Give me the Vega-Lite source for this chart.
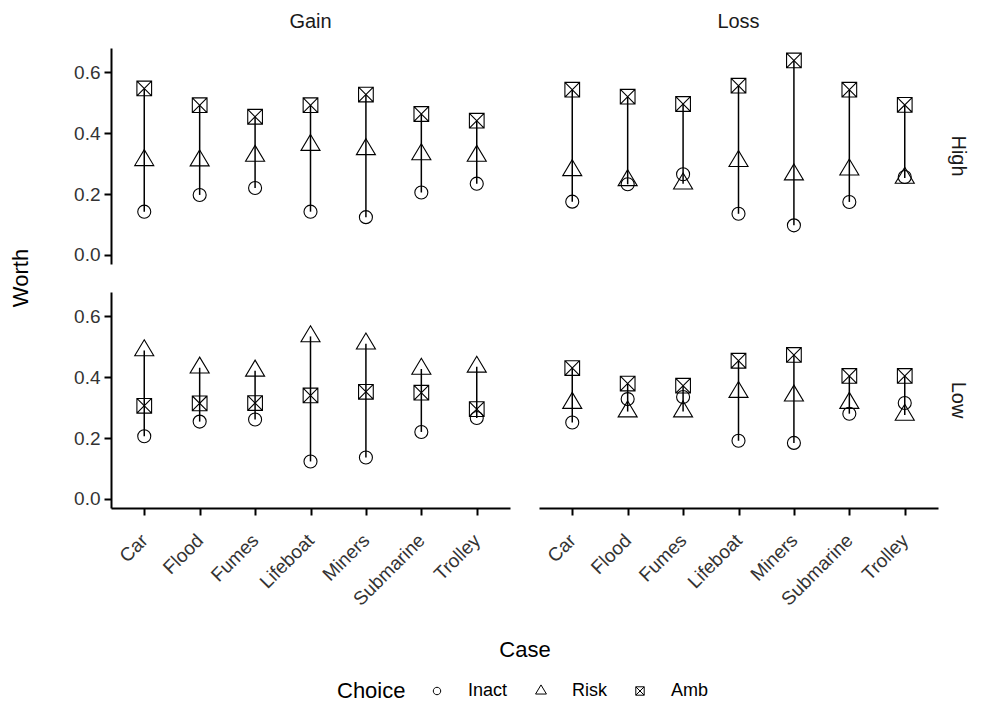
{
  "$schema": "https://vega.github.io/schema/vega-lite/v6.json",
  "background": "white",
  "padding": {"left": 9, "top": 12, "right": 10, "bottom": 5},
  "data": {"values": [
    {"F":"Gain","L":"High","Case":"Car","Choice":"Inact","Worth":0.142},
    {"F":"Gain","L":"High","Case":"Car","Choice":"Risk","Worth":0.311},
    {"F":"Gain","L":"High","Case":"Car","Choice":"Amb","Worth":0.547},
    {"F":"Gain","L":"High","Case":"Flood","Choice":"Inact","Worth":0.197},
    {"F":"Gain","L":"High","Case":"Flood","Choice":"Risk","Worth":0.310},
    {"F":"Gain","L":"High","Case":"Flood","Choice":"Amb","Worth":0.492},
    {"F":"Gain","L":"High","Case":"Fumes","Choice":"Inact","Worth":0.220},
    {"F":"Gain","L":"High","Case":"Fumes","Choice":"Risk","Worth":0.325},
    {"F":"Gain","L":"High","Case":"Fumes","Choice":"Amb","Worth":0.454},
    {"F":"Gain","L":"High","Case":"Lifeboat","Choice":"Inact","Worth":0.142},
    {"F":"Gain","L":"High","Case":"Lifeboat","Choice":"Risk","Worth":0.361},
    {"F":"Gain","L":"High","Case":"Lifeboat","Choice":"Amb","Worth":0.492},
    {"F":"Gain","L":"High","Case":"Miners","Choice":"Inact","Worth":0.124},
    {"F":"Gain","L":"High","Case":"Miners","Choice":"Risk","Worth":0.347},
    {"F":"Gain","L":"High","Case":"Miners","Choice":"Amb","Worth":0.527},
    {"F":"Gain","L":"High","Case":"Submarine","Choice":"Inact","Worth":0.205},
    {"F":"Gain","L":"High","Case":"Submarine","Choice":"Risk","Worth":0.330},
    {"F":"Gain","L":"High","Case":"Submarine","Choice":"Amb","Worth":0.463},
    {"F":"Gain","L":"High","Case":"Trolley","Choice":"Inact","Worth":0.234},
    {"F":"Gain","L":"High","Case":"Trolley","Choice":"Risk","Worth":0.325},
    {"F":"Gain","L":"High","Case":"Trolley","Choice":"Amb","Worth":0.441},
    {"F":"Loss","L":"High","Case":"Car","Choice":"Inact","Worth":0.175},
    {"F":"Loss","L":"High","Case":"Car","Choice":"Risk","Worth":0.278},
    {"F":"Loss","L":"High","Case":"Car","Choice":"Amb","Worth":0.543},
    {"F":"Loss","L":"High","Case":"Flood","Choice":"Inact","Worth":0.232},
    {"F":"Loss","L":"High","Case":"Flood","Choice":"Risk","Worth":0.245},
    {"F":"Loss","L":"High","Case":"Flood","Choice":"Amb","Worth":0.520},
    {"F":"Loss","L":"High","Case":"Fumes","Choice":"Inact","Worth":0.265},
    {"F":"Loss","L":"High","Case":"Fumes","Choice":"Risk","Worth":0.234},
    {"F":"Loss","L":"High","Case":"Fumes","Choice":"Amb","Worth":0.496},
    {"F":"Loss","L":"High","Case":"Lifeboat","Choice":"Inact","Worth":0.135},
    {"F":"Loss","L":"High","Case":"Lifeboat","Choice":"Risk","Worth":0.308},
    {"F":"Loss","L":"High","Case":"Lifeboat","Choice":"Amb","Worth":0.556},
    {"F":"Loss","L":"High","Case":"Miners","Choice":"Inact","Worth":0.097},
    {"F":"Loss","L":"High","Case":"Miners","Choice":"Risk","Worth":0.264},
    {"F":"Loss","L":"High","Case":"Miners","Choice":"Amb","Worth":0.639},
    {"F":"Loss","L":"High","Case":"Submarine","Choice":"Inact","Worth":0.174},
    {"F":"Loss","L":"High","Case":"Submarine","Choice":"Risk","Worth":0.280},
    {"F":"Loss","L":"High","Case":"Submarine","Choice":"Amb","Worth":0.543},
    {"F":"Loss","L":"High","Case":"Trolley","Choice":"Inact","Worth":0.256},
    {"F":"Loss","L":"High","Case":"Trolley","Choice":"Risk","Worth":0.253},
    {"F":"Loss","L":"High","Case":"Trolley","Choice":"Amb","Worth":0.493},
    {"F":"Gain","L":"Low","Case":"Car","Choice":"Inact","Worth":0.206},
    {"F":"Gain","L":"Low","Case":"Car","Choice":"Risk","Worth":0.488},
    {"F":"Gain","L":"Low","Case":"Car","Choice":"Amb","Worth":0.306},
    {"F":"Gain","L":"Low","Case":"Flood","Choice":"Inact","Worth":0.254},
    {"F":"Gain","L":"Low","Case":"Flood","Choice":"Risk","Worth":0.431},
    {"F":"Gain","L":"Low","Case":"Flood","Choice":"Amb","Worth":0.314},
    {"F":"Gain","L":"Low","Case":"Fumes","Choice":"Inact","Worth":0.261},
    {"F":"Gain","L":"Low","Case":"Fumes","Choice":"Risk","Worth":0.421},
    {"F":"Gain","L":"Low","Case":"Fumes","Choice":"Amb","Worth":0.315},
    {"F":"Gain","L":"Low","Case":"Lifeboat","Choice":"Inact","Worth":0.123},
    {"F":"Gain","L":"Low","Case":"Lifeboat","Choice":"Risk","Worth":0.534},
    {"F":"Gain","L":"Low","Case":"Lifeboat","Choice":"Amb","Worth":0.340},
    {"F":"Gain","L":"Low","Case":"Miners","Choice":"Inact","Worth":0.136},
    {"F":"Gain","L":"Low","Case":"Miners","Choice":"Risk","Worth":0.510},
    {"F":"Gain","L":"Low","Case":"Miners","Choice":"Amb","Worth":0.352},
    {"F":"Gain","L":"Low","Case":"Submarine","Choice":"Inact","Worth":0.220},
    {"F":"Gain","L":"Low","Case":"Submarine","Choice":"Risk","Worth":0.427},
    {"F":"Gain","L":"Low","Case":"Submarine","Choice":"Amb","Worth":0.349},
    {"F":"Gain","L":"Low","Case":"Trolley","Choice":"Inact","Worth":0.266},
    {"F":"Gain","L":"Low","Case":"Trolley","Choice":"Risk","Worth":0.434},
    {"F":"Gain","L":"Low","Case":"Trolley","Choice":"Amb","Worth":0.295},
    {"F":"Loss","L":"Low","Case":"Car","Choice":"Inact","Worth":0.251},
    {"F":"Loss","L":"Low","Case":"Car","Choice":"Risk","Worth":0.315},
    {"F":"Loss","L":"Low","Case":"Car","Choice":"Amb","Worth":0.430},
    {"F":"Loss","L":"Low","Case":"Flood","Choice":"Inact","Worth":0.328},
    {"F":"Loss","L":"Low","Case":"Flood","Choice":"Risk","Worth":0.287},
    {"F":"Loss","L":"Low","Case":"Flood","Choice":"Amb","Worth":0.379},
    {"F":"Loss","L":"Low","Case":"Fumes","Choice":"Inact","Worth":0.335},
    {"F":"Loss","L":"Low","Case":"Fumes","Choice":"Risk","Worth":0.287},
    {"F":"Loss","L":"Low","Case":"Fumes","Choice":"Amb","Worth":0.372},
    {"F":"Loss","L":"Low","Case":"Lifeboat","Choice":"Inact","Worth":0.191},
    {"F":"Loss","L":"Low","Case":"Lifeboat","Choice":"Risk","Worth":0.351},
    {"F":"Loss","L":"Low","Case":"Lifeboat","Choice":"Amb","Worth":0.454},
    {"F":"Loss","L":"Low","Case":"Miners","Choice":"Inact","Worth":0.184},
    {"F":"Loss","L":"Low","Case":"Miners","Choice":"Risk","Worth":0.339},
    {"F":"Loss","L":"Low","Case":"Miners","Choice":"Amb","Worth":0.473},
    {"F":"Loss","L":"Low","Case":"Submarine","Choice":"Inact","Worth":0.280},
    {"F":"Loss","L":"Low","Case":"Submarine","Choice":"Risk","Worth":0.315},
    {"F":"Loss","L":"Low","Case":"Submarine","Choice":"Amb","Worth":0.404},
    {"F":"Loss","L":"Low","Case":"Trolley","Choice":"Inact","Worth":0.315},
    {"F":"Loss","L":"Low","Case":"Trolley","Choice":"Risk","Worth":0.276},
    {"F":"Loss","L":"Low","Case":"Trolley","Choice":"Amb","Worth":0.404}
  ]},
  "facet": {
    "column": {"field": "F", "type": "nominal", "title": "Case", "sort": ["Gain","Loss"],
      "header": {"labelOrient": "top", "titleOrient": "bottom", "labelFontSize": 20, "labelColor": "#1a1a1a", "labelPadding": 16,
        "titleFontSize": 22, "titleFontWeight": "normal", "titleColor": "black", "titlePadding": 20}},
    "row": {"field": "L", "type": "nominal", "title": "Worth", "sort": ["High","Low"],
      "header": {"labelOrient": "right", "labelAngle": 90, "titleOrient": "left", "titleAngle": -90, "labelFontSize": 20, "labelColor": "#1a1a1a", "labelPadding": 10,
        "titleFontSize": 22, "titleFontWeight": "normal", "titleColor": "black", "titlePadding": 8}}
  },
  "spacing": {"row": 28, "column": 29},
  "spec": {
    "width": 399,
    "height": 216,
    "layer": [
      {
        "mark": {"type": "rule", "color": "black", "strokeWidth": 1.5},
        "encoding": {
          "x": {"field": "Case", "type": "nominal"},
          "y": {"field": "Worth", "aggregate": "min", "type": "quantitative"},
          "y2": {"field": "Worth", "aggregate": "max"}
        }
      },
      {
        "mark": {"type": "point", "filled": false, "stroke": "black", "strokeWidth": 1.1, "opacity": 1, "size": 196},
        "encoding": {
          "x": {"field": "Case", "type": "nominal", "title": null,
            "scale": {"type": "point", "padding": 0.6},
            "axis": {"labelAngle": -45, "labelPadding": 22}},
          "y": {"field": "Worth", "type": "quantitative", "title": null,
            "scale": {"domain": [-0.03, 0.68], "nice": false, "zero": false},
            "axis": {"values": [0, 0.2, 0.4, 0.6], "format": ".1f", "labelPadding": 4}},
          "shape": {"field": "Choice", "type": "nominal", "title": "Choice",
            "scale": {"domain": ["Inact","Risk","Amb"], "range": [
              "M0.93,0A0.93,0.93,0,1,1,-0.93,0A0.93,0.93,0,1,1,0.93,0Z",
              "M0,-1.52L1.36,0.76L-1.36,0.76Z",
              "M-1.05,-1.05H1.05V1.05H-1.05Z M-1.05,-1.05L1.05,1.05 M1.05,-1.05L-1.05,1.05"]},
            "legend": {"orient": "none", "legendX": 226, "legendY": 634}}
        }
      }
    ]
  },
  "config": {
    "font": "Liberation Sans",
    "view": {"stroke": null},
    "axis": {
      "grid": false,
      "domainColor": "black",
      "domainWidth": 2,
      "tickColor": "black",
      "tickWidth": 2,
      "tickSize": 7,
      "labelFontSize": 19,
      "labelColor": "#333333",
      "labelFont": "Liberation Sans"
    },
    "legend": {
      "direction": "horizontal",
      "titleOrient": "left",
      "titleFontSize": 22,
      "titleFontWeight": "normal",
      "titleColor": "black",
      "titlePadding": 22,
      "labelFontSize": 18,
      "labelColor": "black",
      "symbolStrokeColor": "black",
      "symbolStrokeWidth": 1,
      "symbolSize": 64,
      "columnPadding": 24,
      "labelOffset": 22
    }
  }
}
